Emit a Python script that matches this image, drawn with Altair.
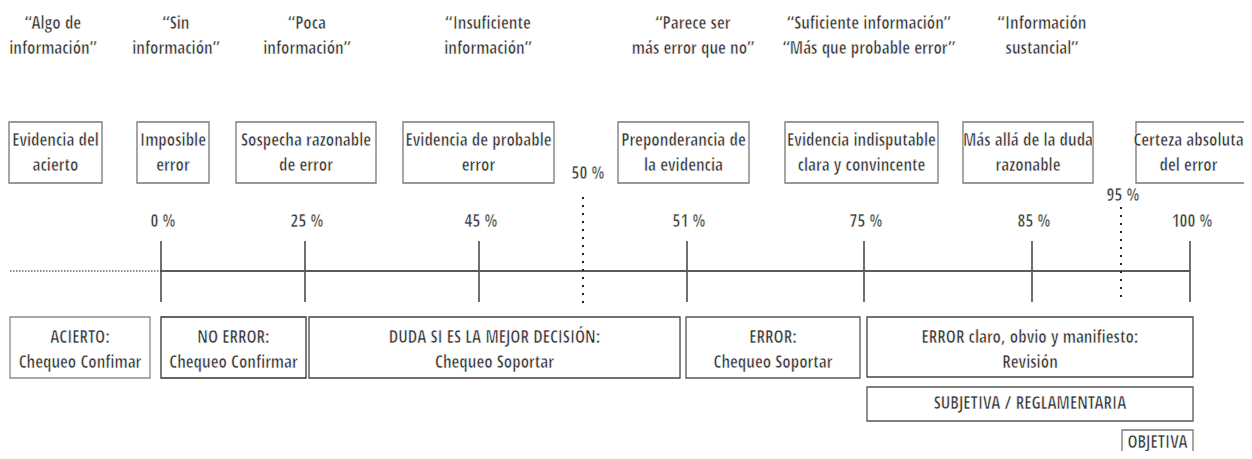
import altair as alt
import pandas as pd

# ---------------- content ----------------
quote_labels = [
    "“Algo de\ninformación”",
    "“Sin\ninformación”",
    "“Poca\ninformación”",
    "“Insuficiente\ninformación”",
    "“Parece ser\nmás error que no”",
    "“Suficiente información”\n“Más que probable error”",
    "“Información\nsustancial”",
]
evidence_labels = [
    "Evidencia del\nacierto",
    "Imposible\nerror",
    "Sospecha razonable\nde error",
    "Evidencia de probable\nerror",
    "Preponderancia de\nla evidencia",
    "Evidencia indisputable\nclara y convincente",
    "Más allá de la duda\nrazonable",
    "Certeza absoluta\ndel error",
]
tick_labels = ["0 %", "25 %", "45 %", "51 %", "75 %", "85 %", "100 %"]
threshold_labels = ["50 %", "95 %"]
decision_labels = [
    "ACIERTO:\nChequeo Confimar",
    "NO ERROR:\nChequeo Confirmar",
    "DUDA SI ES LA MEJOR DECISIÓN:\nChequeo Soportar",
    "ERROR:\nChequeo Soportar",
    "ERROR claro, obvio y manifiesto:\nRevisión",
    "SUBJETIVA / REGLAMENTARIA",
    "OBJETIVA",
]

# ---------------- layout (page pixel coordinates) ----------------
quote_x = [53, 176, 307, 488, 693, 869, 1042]
quote_y = 36

evid_x1 = [9, 137, 236, 403, 618, 785, 963, 1136]
evid_x2 = [102, 209, 376, 554, 749, 938, 1093, 1247]
evid_text_dx = [0, 0, 0, 0, 0, 0, 0, -3]
evid_y1, evid_y2 = 122, 183

tick_x = [161, 305, 479, 687, 864, 1032, 1190]
tick_label_y = 222
tick_y1, tick_y2 = 241, 302
axis_y = 271
axis_left = 10

thr_x = [583, 1121]
thr_label_x = [588, 1123]
thr_label_y = [174, 196]
thr_y1 = [197, 207]
thr_y2 = [307, 300]

dec_x1 = [10, 161, 309, 686, 867, 867, 1122]
dec_x2 = [150, 306, 680, 860, 1193, 1193, 1193]
dec_y1 = [317, 317, 317, 317, 317, 387, 430]
dec_y2 = [378, 378, 378, 378, 377, 421, 470]
dec_stroke = ["#8a8a8a", "#333333", "#444444", "#555555", "#444444", "#555555", "#777777"]

FONT = "Open Sans Condensed, Noto Sans Condensed, Roboto Condensed, Roboto"
TXT = "#303030"
LH = 25
W, H = 1236, 443


def first_line_y(label, center):
    n = label.count("\n") + 1
    return center - (n - 1) * LH / 2


# ---------------- tables ----------------
boxes = pd.DataFrame({
    "x1": evid_x1 + dec_x1,
    "x2": evid_x2 + dec_x2,
    "y1": [evid_y1] * len(evid_x1) + dec_y1,
    "y2": [evid_y2] * len(evid_x1) + dec_y2,
    "stroke": ["#777777"] * len(evid_x1) + dec_stroke,
})

all_labels = quote_labels + evidence_labels + decision_labels + tick_labels + threshold_labels
centers_y = ([quote_y] * len(quote_x)
             + [(evid_y1 + evid_y2) / 2 + 1] * len(evid_x1)
             + [350] * 5 + [404, 443]
             + [tick_label_y] * len(tick_x)
             + thr_label_y)
texts = pd.DataFrame({
    "label": all_labels,
    "x": quote_x
    + [(a + b) / 2 + d for a, b, d in zip(evid_x1, evid_x2, evid_text_dx)]
    + [(a + b) / 2 for a, b in zip(dec_x1, dec_x2)]
    + [t + 2 for t in tick_x]
    + thr_label_x,
    "y": [first_line_y(l, c) for l, c in zip(all_labels, centers_y)],
})

solid = pd.DataFrame({
    "x1": tick_x + [tick_x[0]],
    "x2": tick_x + [tick_x[-1]],
    "y1": [tick_y1] * len(tick_x) + [axis_y],
    "y2": [tick_y2] * len(tick_x) + [axis_y],
    "w": [1.3] * len(tick_x) + [2.2],
    "c": ["#222222"] * len(tick_x) + ["#5a5a5a"],
})

dotted_v = pd.DataFrame({"x1": thr_x, "x2": thr_x, "y1": thr_y1, "y2": thr_y2})
dotted_h = pd.DataFrame({"x1": [axis_left], "x2": [tick_x[0]], "y1": [axis_y], "y2": [axis_y]})

xs = alt.Scale(domain=[8, 8 + W], nice=False, zero=False)
ys = alt.Scale(domain=[8, 8 + H], nice=False, zero=False, reverse=True)


def X(f):
    return alt.X(f, type="quantitative", scale=xs, axis=None)


def Y(f):
    return alt.Y(f, type="quantitative", scale=ys, axis=None)


rects = alt.Chart(boxes).mark_rect(fill="white", strokeWidth=1.3).encode(
    x=X("x1"), x2="x2", y=Y("y1"), y2="y2",
    stroke=alt.Stroke("stroke:N", scale=None),
)

lines = alt.Chart(solid).mark_rule().encode(
    x=X("x1"), x2="x2", y=Y("y1"), y2="y2",
    strokeWidth=alt.StrokeWidth("w:Q", scale=None),
    color=alt.Color("c:N", scale=None),
)

dv = alt.Chart(dotted_v).mark_rule(color="#222222", strokeWidth=2, strokeDash=[2, 6]).encode(
    x=X("x1"), x2="x2", y=Y("y1"), y2="y2",
)
dh = alt.Chart(dotted_h).mark_rule(color="#666666", strokeWidth=1.5, strokeDash=[1.5, 1.5]).encode(
    x=X("x1"), x2="x2", y=Y("y1"), y2="y2",
)

labels = alt.Chart(texts).mark_text(
    font=FONT, fontSize=17, lineBreak="\n", lineHeight=LH, fill=TXT,
    stroke="white", strokeWidth=0.6,
    align="center", baseline="middle",
).encode(x=X("x"), y=Y("y"), text="label:N")

chart = alt.layer(rects, dh, lines, dv, labels).properties(
    width=W, height=H, padding=0, autosize=alt.AutoSizeParams(type="none"),
).configure_view(stroke=None)

chart.save("out.html", embed_options={"renderer": "svg", "actions": False})
